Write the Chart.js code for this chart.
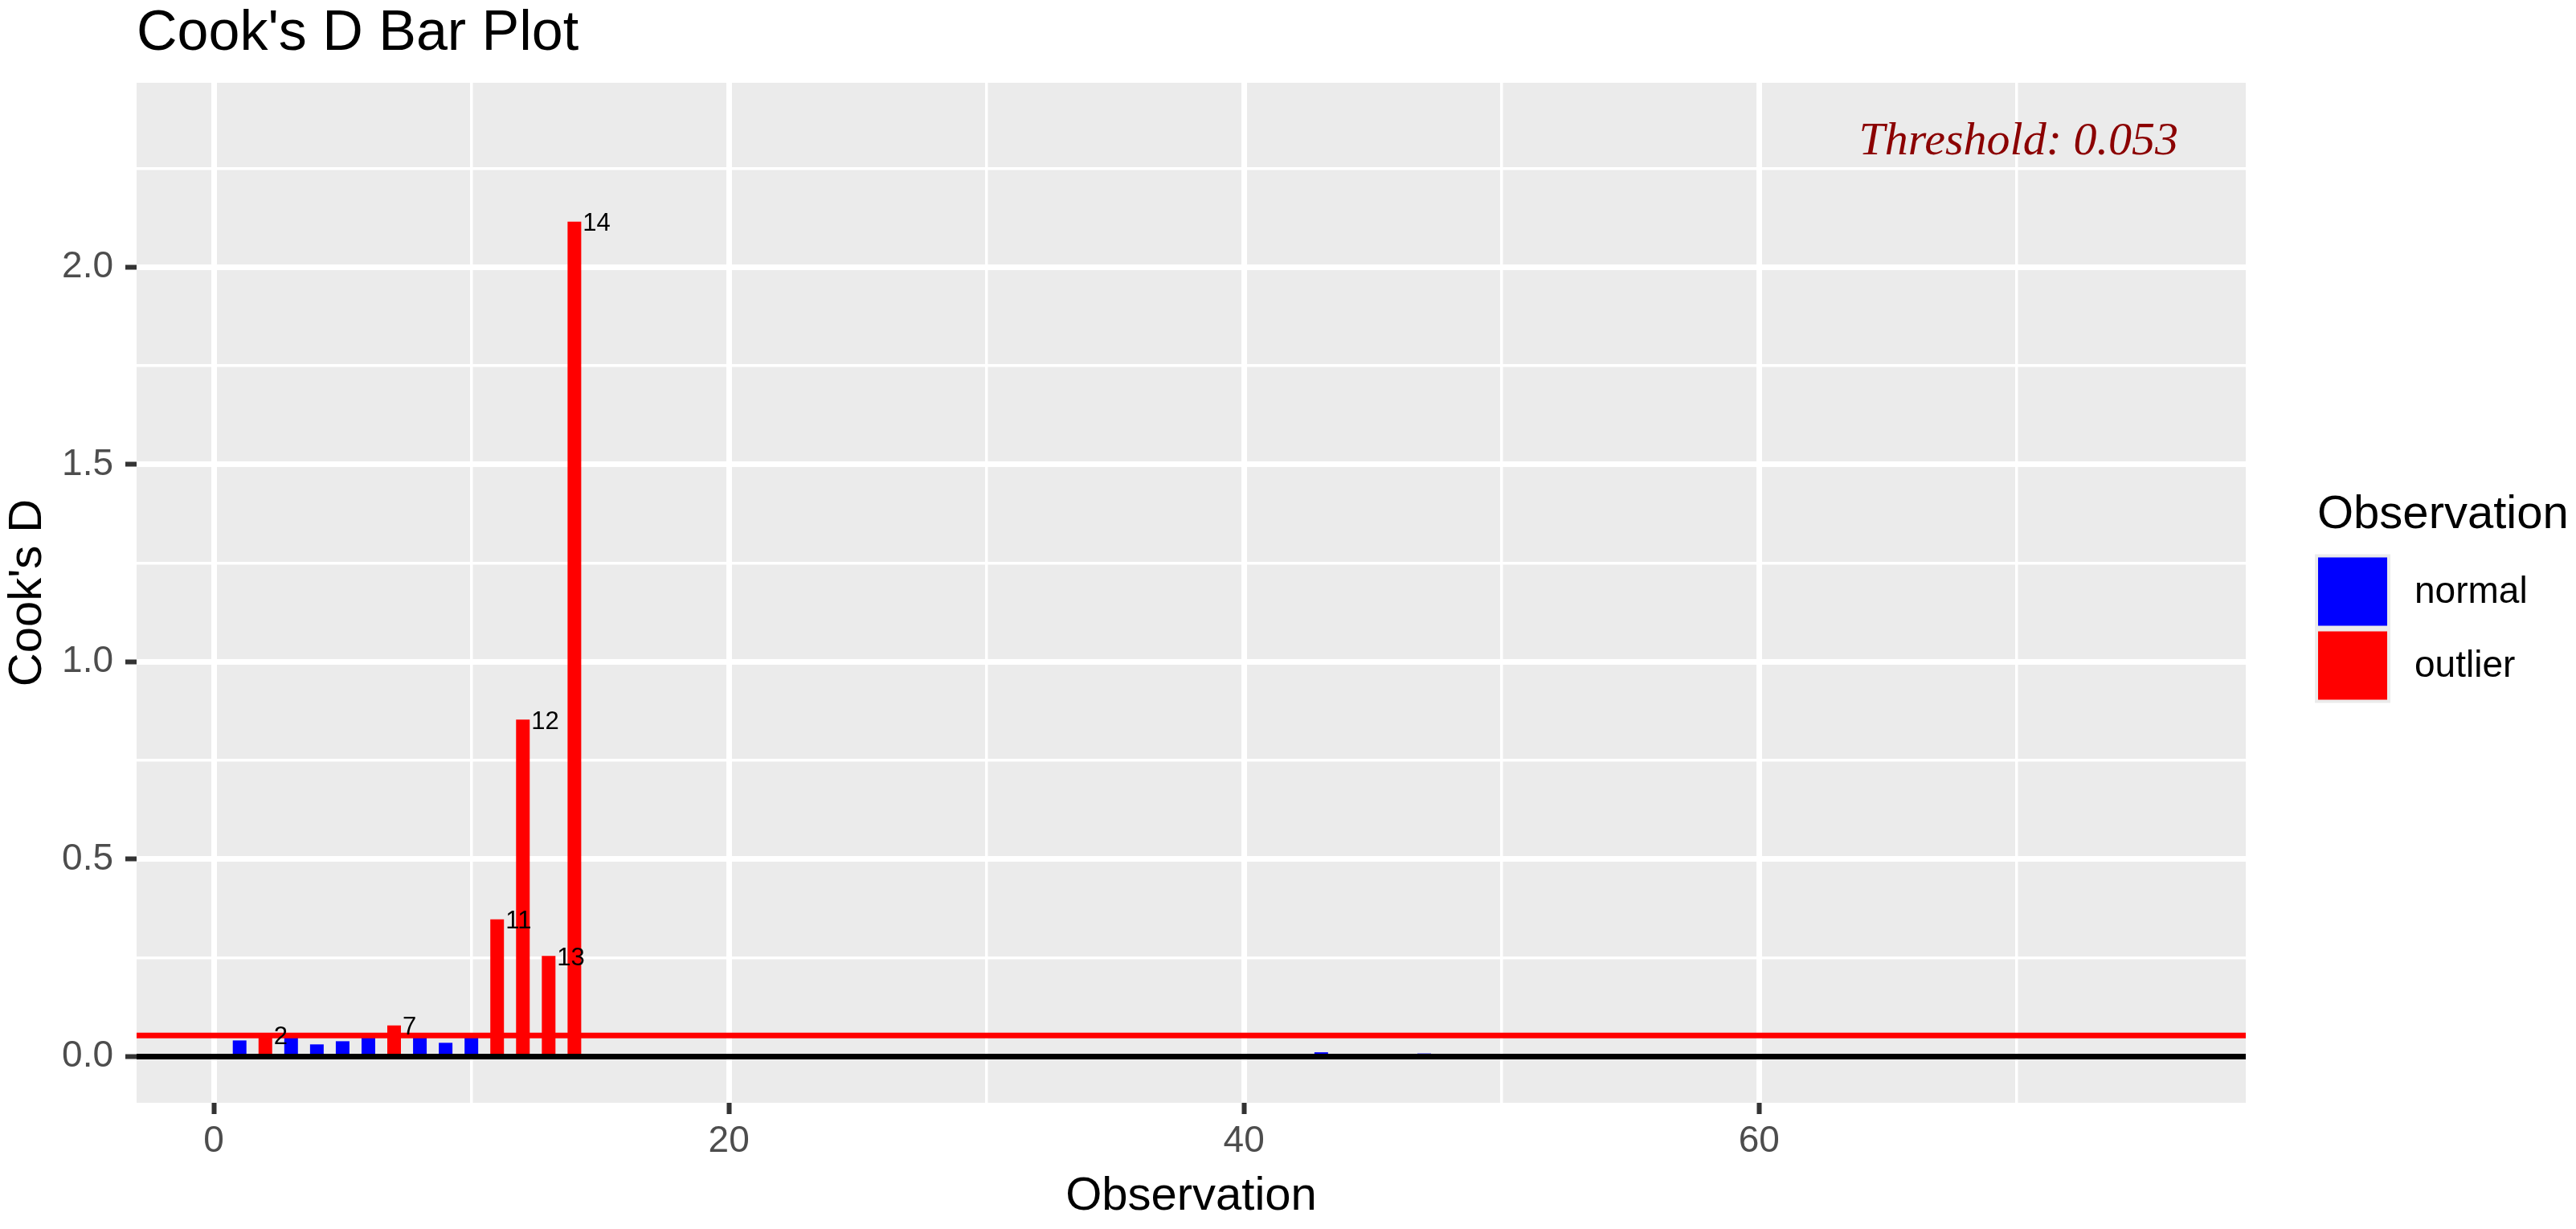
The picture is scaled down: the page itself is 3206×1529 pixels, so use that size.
<!DOCTYPE html>
<html>
<head>
<meta charset="utf-8">
<title>Cook's D Bar Plot</title>
<script src="https://cdn.jsdelivr.net/npm/chart.js@4.4.1/dist/chart.umd.min.js"></script>
<style>
  html, body { margin: 0; padding: 0; background: #ffffff; }
  canvas { display: block; }
</style>
</head>
<body>
<canvas id="cooksd-bar" width="3206" height="1529"></canvas>
<script>
'use strict';

// observation index and Cook's distance
var observation = [
   1,  2,  3,  4,  5,  6,  7,  8,  9, 10, 11, 12, 13, 14, 15,
  16, 17, 18, 19, 20, 21, 22, 23, 24, 25, 26, 27, 28, 29, 30,
  31, 32, 33, 34, 35, 36, 37, 38, 39, 40, 41, 42, 43, 44, 45,
  46, 47, 48, 49, 50, 51, 52, 53, 54, 55, 56, 57, 58, 59, 60,
  61, 62, 63, 64, 65, 66, 67, 68, 69, 70, 71, 72, 73, 74, 75
];
var cooksD = [
  0.041, 0.056, 0.049, 0.031, 0.039, 0.049, 0.079, 0.049, 0.035, 0.049, 0.348, 0.854, 0.255, 2.115, 0,
  0, 0, 0, 0, 0, 0, 0, 0, 0, 0, 0, 0, 0, 0, 0,
  0, 0, 0, 0, 0, 0, 0, 0, 0, 0, 0, 0, 0.011, 0, 0,
  0, 0.008, 0, 0, 0, 0, 0, 0, 0, 0, 0, 0, 0, 0, 0,
  0, 0, 0, 0, 0, 0, 0, 0, 0, 0, 0, 0, 0, 0, 0
];
var threshold = 0.0533;
var thresholdLabel = 'Threshold: 0.053';
var groupNames = ['normal', 'outlier'];
var groupColors = ['#0000FF', '#FF0000'];
var xMajorTicks = [0, 20, 40, 60];
var xMinorTicks = [10, 30, 50, 70];
var yMajorTicks = [0, 0.5, 1, 1.5, 2];
var yMinorTicks = [0.25, 0.75, 1.25, 1.75, 2.25];

var FONT = '"Liberation Sans", Arial, sans-serif';
Chart.defaults.font.family = FONT;

function pointsFor(isOutlier) {
  var pts = [];
  for (var i = 0; i < observation.length; i++) {
    if ((cooksD[i] > threshold) === isOutlier) {
      pts.push({ x: observation[i], y: cooksD[i] });
    }
  }
  return pts;
}

function tickList(major, minor) {
  return major.concat(minor).sort(function (a, b) { return a - b; })
    .map(function (v) { return { value: v }; });
}

function isMajor(list, v) {
  return list.indexOf(v) >= 0;
}

var ggPlugin = {
  id: 'ggLook',
  beforeDraw: function (chart) {
    var a = chart.chartArea, ctx = chart.ctx;
    ctx.save();
    ctx.fillStyle = '#EBEBEB';
    ctx.fillRect(a.left, a.top, a.right - a.left, a.bottom - a.top);
    ctx.restore();
  },
  afterDatasetsDraw: function (chart) {
    var a = chart.chartArea, ctx = chart.ctx;
    var yScale = chart.scales.y;

    ctx.save();
    // zero line and threshold line
    [[0, '#000000'], [threshold, '#FF0000']].forEach(function (l) {
      var py = yScale.getPixelForValue(l[0]);
      ctx.strokeStyle = l[1];
      ctx.lineWidth = 7;
      ctx.beginPath();
      ctx.moveTo(a.left, py);
      ctx.lineTo(a.right, py);
      ctx.stroke();
    });

    // observation number next to each outlier bar
    var meta = chart.getDatasetMeta(1);
    var pts = chart.data.datasets[1].data;
    ctx.fillStyle = '#000000';
    ctx.font = '31px ' + FONT;
    ctx.textAlign = 'left';
    ctx.textBaseline = 'middle';
    meta.data.forEach(function (bar, i) {
      ctx.fillText(String(pts[i].x), bar.x + bar.width / 2 + 2, bar.y + 3);
    });
    ctx.restore();
  },
  afterDraw: function (chart) {
    var a = chart.chartArea, ctx = chart.ctx;
    ctx.save();

    // title
    ctx.fillStyle = '#000000';
    ctx.textAlign = 'left';
    ctx.textBaseline = 'alphabetic';
    ctx.font = '70px ' + FONT;
    ctx.fillText("Cook's D Bar Plot", a.left, 62);

    // threshold note
    ctx.fillStyle = '#8B0000';
    ctx.textAlign = 'right';
    ctx.font = 'italic 58px "Liberation Serif", "Times New Roman", serif';
    ctx.fillText(thresholdLabel, a.right - 84, a.top + 89);

    // legend
    var mid = (a.top + a.bottom) / 2;
    var lx = a.right + 86;
    ctx.textAlign = 'left';
    ctx.fillStyle = '#000000';
    ctx.font = '58px ' + FONT;
    ctx.fillText('Observation', lx + 3, mid - 81);

    var keyTop = mid - 48;
    ctx.fillStyle = '#EBEBEB';
    ctx.fillRect(lx, keyTop, 94, 185);
    ctx.font = '46px ' + FONT;
    ctx.textBaseline = 'middle';
    groupNames.forEach(function (name, i) {
      var top = keyTop + 4 + i * 92;
      ctx.fillStyle = groupColors[i];
      ctx.fillRect(lx + 4, top, 86, 85);
      ctx.fillStyle = '#000000';
      ctx.fillText(name, lx + 124, top + 44);
    });
    ctx.restore();
  }
};

new Chart(document.getElementById('cooksd-bar'), {
  type: 'bar',
  data: {
    datasets: groupNames.map(function (name, i) {
      return {
        label: name,
        data: pointsFor(i === 1),
        backgroundColor: groupColors[i],
        borderWidth: 0,
        grouped: false,
        barPercentage: 0.53,
        categoryPercentage: 1
      };
    })
  },
  options: {
    responsive: false,
    animation: false,
    devicePixelRatio: 1,
    layout: { padding: { left: 0, top: 103, right: 411, bottom: 0 } },
    plugins: {
      legend: { display: false },
      title: { display: false },
      tooltip: { enabled: false }
    },
    scales: {
      x: {
        type: 'linear',
        min: -3.0,
        max: 78.9,
        offset: false,
        afterFit: function (s) { s.height = 157; },
        afterBuildTicks: function (s) { s.ticks = tickList(xMajorTicks, xMinorTicks); },
        ticks: {
          autoSkip: false,
          maxRotation: 0,
          padding: 7,
          color: '#4D4D4D',
          font: { size: 46 },
          callback: function (v) { return isMajor(xMajorTicks, v) ? String(v) : ''; }
        },
        grid: {
          offset: false,
          color: '#FFFFFF',
          lineWidth: function (c) { return c.tick && isMajor(xMajorTicks, c.tick.value) ? 7 : 3.5; },
          tickLength: 14,
          tickWidth: 6,
          tickColor: function (c) { return c.tick && isMajor(xMajorTicks, c.tick.value) ? '#333333' : 'rgba(0,0,0,0)'; }
        },
        border: { display: false },
        title: {
          display: true,
          text: 'Observation',
          color: '#000000',
          font: { size: 58 },
          padding: { top: 0, bottom: 5 }
        }
      },
      y: {
        type: 'linear',
        min: -0.117,
        max: 2.467,
        afterFit: function (s) { s.width = 170; },
        afterBuildTicks: function (s) { s.ticks = tickList(yMajorTicks, yMinorTicks); },
        ticks: {
          autoSkip: false,
          padding: 15,
          color: '#4D4D4D',
          font: { size: 46 },
          callback: function (v) { return isMajor(yMajorTicks, v) ? v.toFixed(1) : ''; }
        },
        grid: {
          color: '#FFFFFF',
          lineWidth: function (c) { return c.tick && isMajor(yMajorTicks, c.tick.value) ? 7 : 3.5; },
          tickLength: 14,
          tickWidth: 6,
          tickColor: function (c) { return c.tick && isMajor(yMajorTicks, c.tick.value) ? '#333333' : 'rgba(0,0,0,0)'; }
        },
        border: { display: false },
        title: {
          display: true,
          text: "Cook's D",
          color: '#000000',
          font: { size: 58 },
          padding: { top: 0, bottom: 0 }
        }
      }
    }
  },
  plugins: [ggPlugin]
});
</script>
</body>
</html>
